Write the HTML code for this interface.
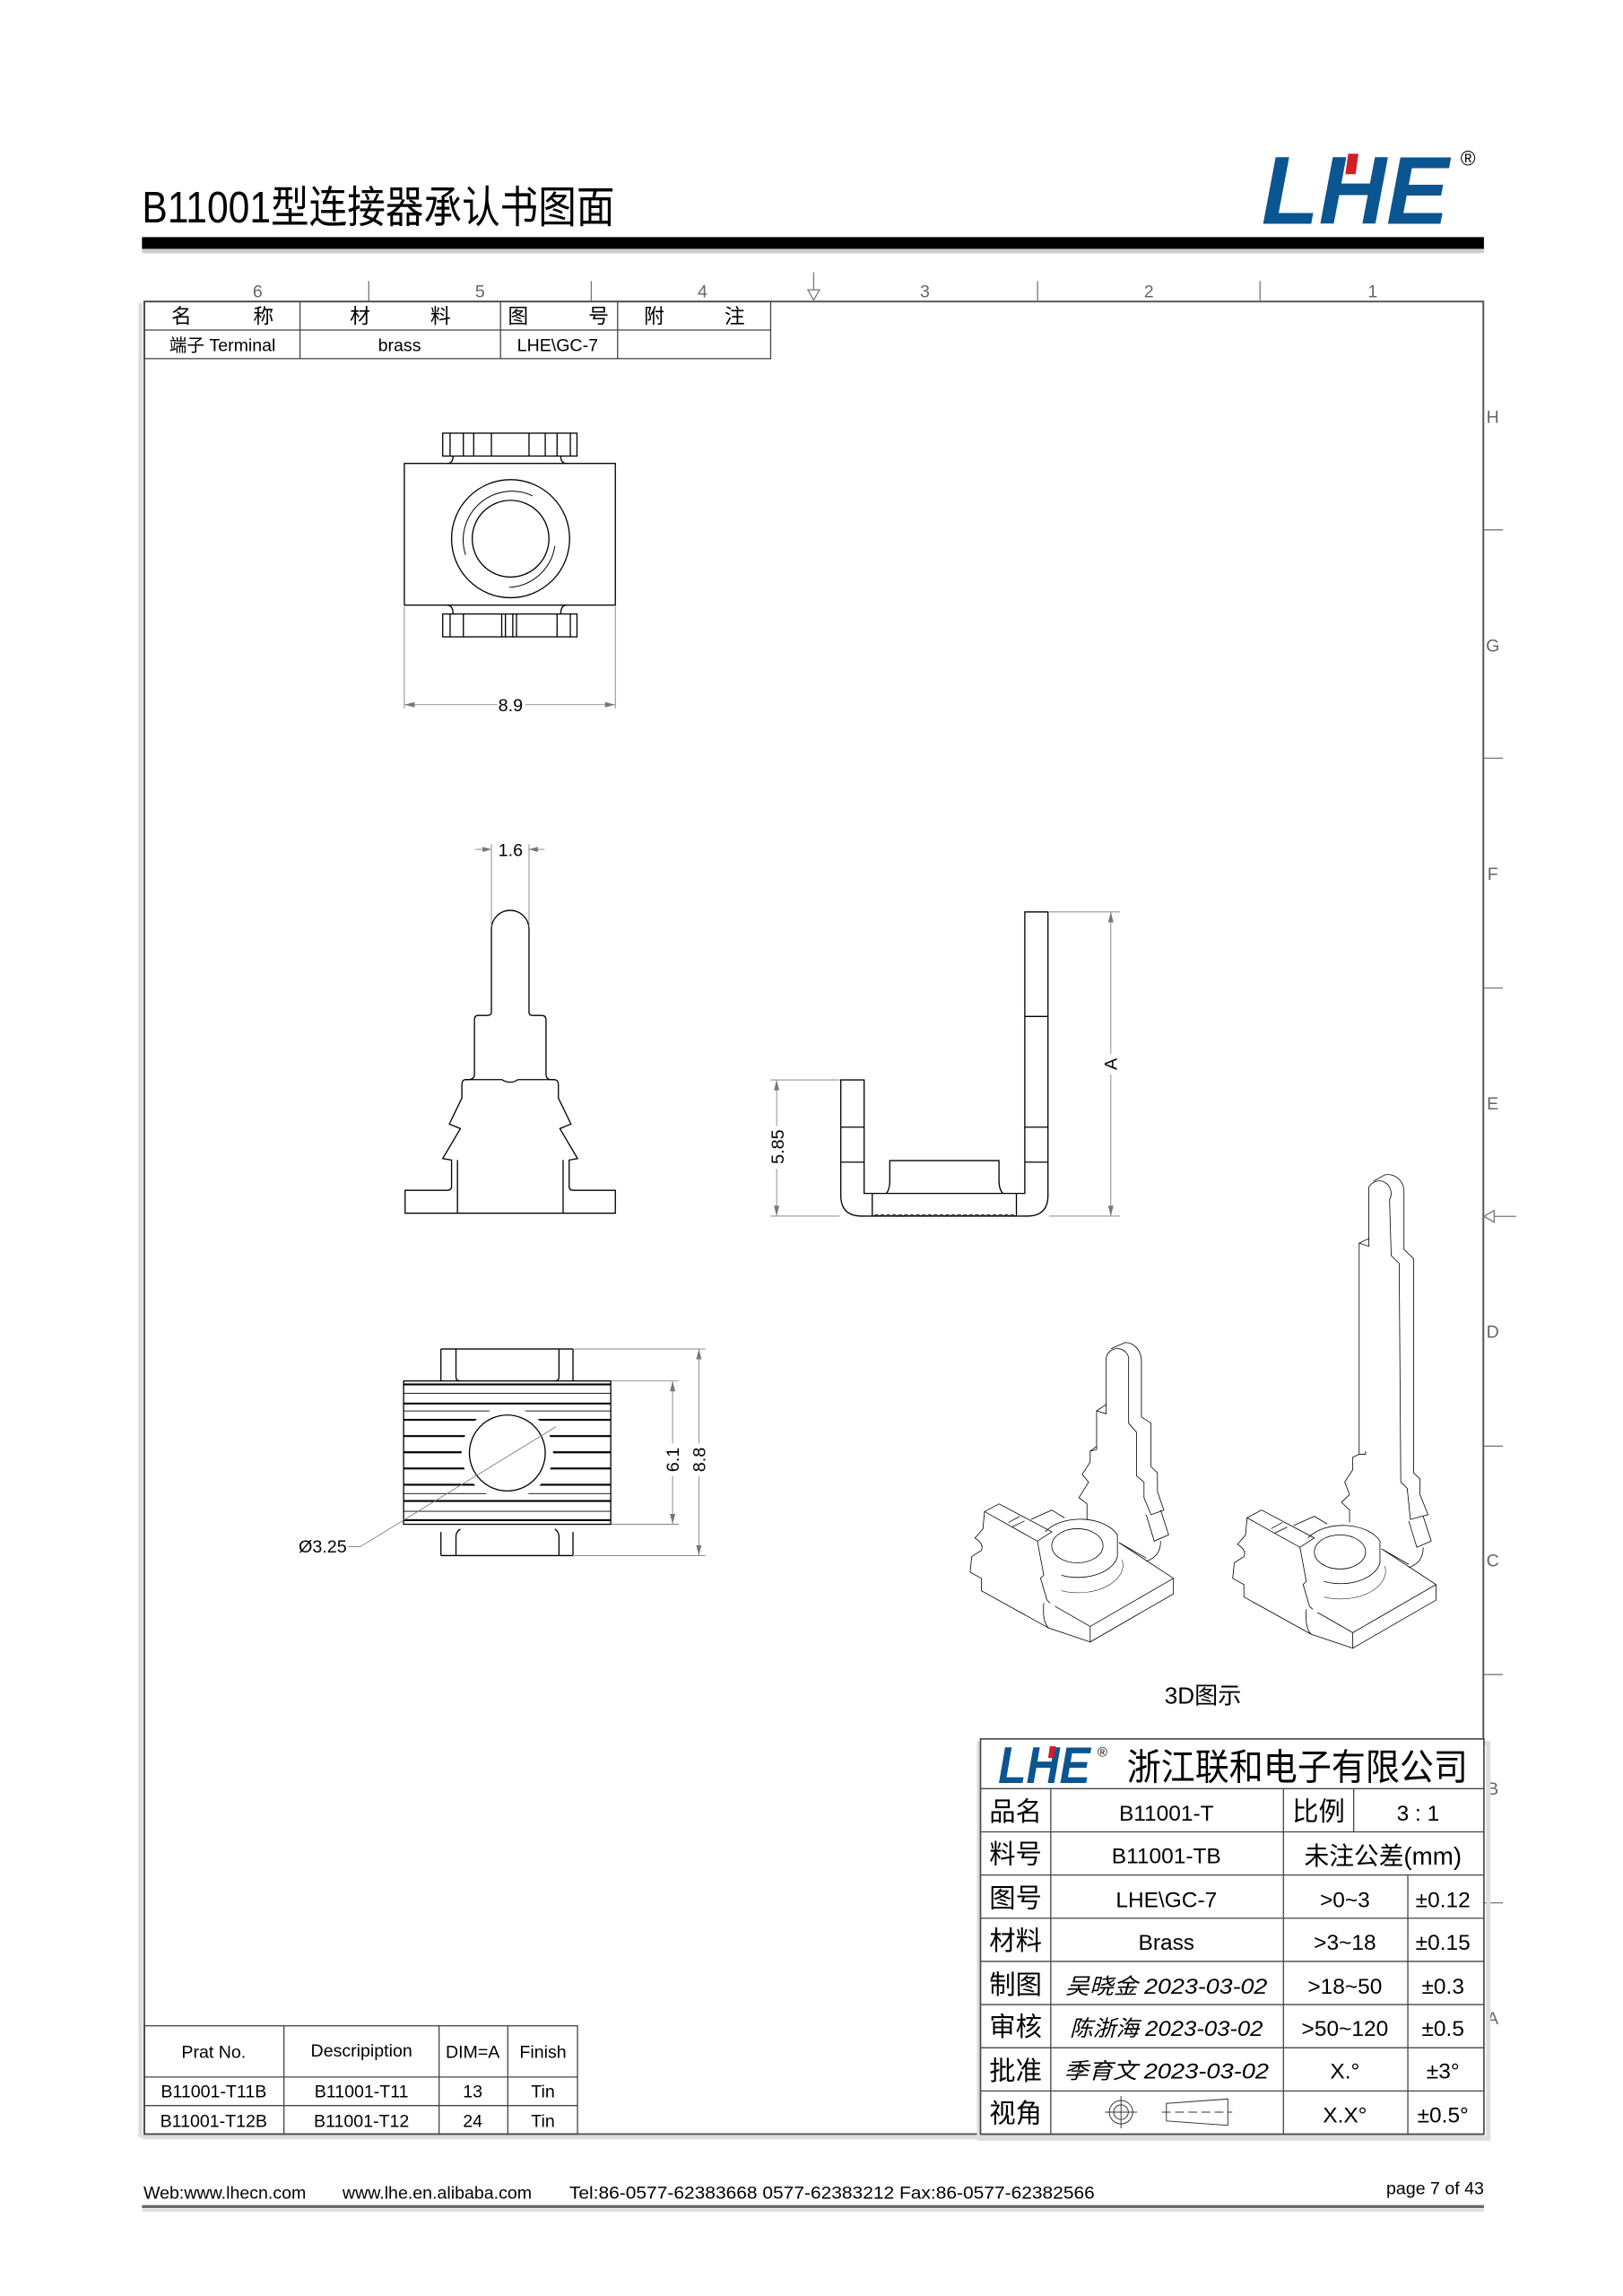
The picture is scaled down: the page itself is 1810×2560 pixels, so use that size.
<!DOCTYPE html>
<html><head><meta charset="utf-8"><style>
html,body{margin:0;padding:0;background:#fff;}
svg{display:block;}
text{font-family:"Liberation Sans","Noto Sans CJK SC",sans-serif;}
.cj{font-family:"Liberation Sans","Noto Sans CJK SC",sans-serif;}
.sig{font-family:"Liberation Serif","Noto Serif CJK SC",serif;font-style:italic;}
</style></head><body>
<svg width="1810" height="2560" viewBox="0 0 1109 1568.6" xmlns="http://www.w3.org/2000/svg">
<!-- header -->
<text x="97" y="152" font-size="30" textLength="323" lengthAdjust="spacingAndGlyphs">B11001型连接器承认书图面</text>
<text x="862" y="153" font-size="66" font-weight="bold" font-style="italic" fill="#0b5591" textLength="128" lengthAdjust="spacingAndGlyphs">LHE</text>
<rect x="936" y="105" width="7" height="14" fill="#d0202a" transform="skewX(-8)" />
<text x="998" y="113" font-size="14">®</text>
<rect x="97" y="170" width="917" height="3" fill="#ccc"/>
<rect x="97" y="162" width="917" height="8" fill="#000"/>

<!-- frame -->
<rect x="98.6" y="206" width="915" height="1252" fill="none" stroke="#555" stroke-width="1.2"/>
<line x1="96" y1="207" x2="96" y2="1460" stroke="#ddd" stroke-width="3"/>
<line x1="97" y1="1460" x2="1014" y2="1460" stroke="#ddd" stroke-width="3"/>
<!-- column markers -->
<g fill="#666" font-size="12" text-anchor="middle">
<text x="176" y="203">6</text><text x="328" y="203">5</text><text x="480" y="203">4</text>
<text x="632" y="203">3</text><text x="785" y="203">2</text><text x="938" y="203">1</text>
</g>
<g stroke="#777" stroke-width="0.8">
<line x1="252" y1="192" x2="252" y2="206"/><line x1="404" y1="192" x2="404" y2="206"/>
<line x1="556" y1="186" x2="556" y2="204"/><line x1="709" y1="192" x2="709" y2="206"/>
<line x1="861" y1="192" x2="861" y2="206"/>
<polygon points="552,198 560,198 556,205" fill="#fff"/>
<line x1="1014" y1="362" x2="1027" y2="362"/><line x1="1014" y1="518" x2="1027" y2="518"/>
<line x1="1014" y1="675" x2="1027" y2="675"/><line x1="1014" y1="831" x2="1036" y2="831"/>
<line x1="1014" y1="988" x2="1027" y2="988"/><line x1="1014" y1="1144" x2="1027" y2="1144"/>
<line x1="1014" y1="1300" x2="1027" y2="1300"/>
<polygon points="1014,831 1021,827 1021,835" fill="#fff"/>
</g>
<g fill="#666" font-size="12" text-anchor="middle">
<text x="1020" y="289">H</text><text x="1020" y="445">G</text><text x="1020" y="601">F</text>
<text x="1020" y="758">E</text><text x="1020" y="914">D</text><text x="1020" y="1070">C</text>
<text x="1020" y="1226">B</text><text x="1020" y="1383">A</text>
</g>

<!-- top-left table -->
<g stroke="#444" stroke-width="0.8" fill="none">
<rect x="98.6" y="206" width="428" height="39"/>
<line x1="98.6" y1="225.5" x2="526.6" y2="225.5"/>
<line x1="205" y1="206" x2="205" y2="245"/><line x1="342" y1="206" x2="342" y2="245"/>
<line x1="422" y1="206" x2="422" y2="245"/>
</g>
<g font-size="14" text-anchor="middle">
<text x="124" y="221">名</text><text x="180" y="221">称</text>
<text x="246" y="221">材</text><text x="301" y="221">料</text>
<text x="354" y="221">图</text><text x="409" y="221">号</text>
<text x="447" y="221">附</text><text x="502" y="221">注</text>
</g>
<g font-size="12" text-anchor="middle">
<text x="152" y="240">端子 Terminal</text><text x="273" y="240">brass</text><text x="381" y="240">LHE\GC-7</text>
</g>

<!-- drawings -->
<g transform="scale(1.0083)" stroke="#000" stroke-width="0.8" fill="none">
<!-- top view -->
<rect x="274" y="314" width="143" height="96"/>
<rect x="300" y="293.5" width="91" height="15.5"/>
<rect x="300" y="416" width="91" height="15.5"/>
<path d="M307 309 Q307 314 303 314 M380 309 Q380 314 384 314 M307 416 Q307 410 303 410 M380 416 Q380 410 384 410"/>
<path d="M305 293.5V309M314 293.5V309M321 293.5V309M333 293.5V309M358.5 293.5V309M369.5 293.5V309M377.5 293.5V309M386.5 293.5V309"/>
<path d="M305 416V431.5M314 416V431.5M340 416V431.5M342.5 416V431.5M347.5 416V431.5M350 416V431.5M377.5 416V431.5M386.5 416V431.5"/>
<circle cx="346" cy="365" r="40"/>
<circle cx="346" cy="365" r="26"/>
<path d="M315.5 376 A33 33 0 0 1 361 336 M376 370 A33 33 0 0 1 345 398" stroke-width="0.6"/>
<g stroke="#777" stroke-width="0.5">
<line x1="274" y1="411" x2="274" y2="480"/><line x1="417" y1="411" x2="417" y2="480"/>
<line x1="274" y1="477.5" x2="337" y2="477.5"/><line x1="356" y1="477.5" x2="417" y2="477.5"/>
</g>
<path d="M274 477.5l7 -1.8v3.6z M417 477.5l-7 -1.8v3.6z" fill="#777" stroke="none"/>
<text x="346" y="482" font-size="12" text-anchor="middle" fill="#000" stroke="none">8.9</text>

<!-- side view -->
<path d="M333 629.6 L333 686 Q333 688 330 688 L324 688 Q321.5 688 321.5 691 L321.5 728 Q321.5 731 318 731.5 L315 731.5 Q313 732 313 735 L313 744 L304.5 761.6 L312 764.7 L300 785 L306 786 L306 804 Q306 806.5 303 806.5 L274.5 806.5 L274.5 822 L417 822 L417 806.5 L388.4 806.5 Q385.7 806.5 385.7 804 L385.7 786 L391.4 785 L379.4 764.7 L386.9 761.6 L378.4 744 L378.4 735 Q378.4 732 376 731.5 L373 731.5 Q370 731 370 728 L370 691 Q370 688 367 688 L361 688 Q358.5 688 358.5 686 L358.5 629.6 A12.75 12.75 0 0 0 333 629.6 Z"/>
<path d="M315 731.5 L340 731.5 Q345.7 735 351 731.5 L376 731.5"/>
<path d="M310 786 V822 M381.6 786 V822"/>
<g stroke="#777" stroke-width="0.5">
<line x1="333" y1="572" x2="333" y2="628"/><line x1="358.5" y1="572" x2="358.5" y2="628"/>
<line x1="322" y1="575.5" x2="333" y2="575.5"/><line x1="358.5" y1="575.5" x2="369" y2="575.5"/>
</g>
<path d="M333 575.5l-6 -1.8v3.6z M358.5 575.5l6 -1.8v3.6z" fill="#777" stroke="none"/>
<text x="346" y="580" font-size="12" text-anchor="middle" fill="#000" stroke="none">1.6</text>

<!-- front view -->
<path d="M569.8 731.7 L569.8 810 Q569.8 824 584 824 L696 824 Q710.2 824 710.2 810 L710.2 617.9 L694.5 617.9 L694.5 808.6 L585.6 808.6 L585.6 731.7 Z"/>
<path d="M569.8 763.7H585.6M569.8 787.4H585.6M694.5 688.7H710.2M694.5 763.7H710.2M694.5 787.4H710.2"/>
<path d="M591.1 808.6V824M688.8 808.6V824"/>
<path d="M600.6 808.6 Q603 806 603 800 L603 786.4 L677 786.4 L677 800 Q677 806 679.7 808.6"/>
<path d="M592 824 q2 -2 4 0 q2 -2 4 0 q2 -2 4 0 q2 -2 4 0 q2 -2 4 0 q2 -2 4 0 q2 -2 4 0 q2 -2 4 0 q2 -2 4 0 q2 -2 4 0 q2 -2 4 0 q2 -2 4 0 q2 -2 4 0 q2 -2 4 0 q2 -2 4 0 q2 -2 4 0 q2 -2 4 0 q2 -2 4 0 q2 -2 4 0 q2 -2 4 0 q2 -2 4 0 q2 -2 4 0 q2 -2 4 0 q2 -2 4 0" stroke-width="0.5"/>
<g stroke="#777" stroke-width="0.5">
<line x1="522" y1="731.7" x2="569" y2="731.7"/><line x1="522" y1="824" x2="569" y2="824"/>
<line x1="526.3" y1="731.7" x2="526.3" y2="763"/><line x1="526.3" y1="792" x2="526.3" y2="824"/>
<line x1="711" y1="617.9" x2="759" y2="617.9"/><line x1="711" y1="824" x2="759" y2="824"/>
<line x1="752.8" y1="617.9" x2="752.8" y2="714"/><line x1="752.8" y1="728" x2="752.8" y2="824"/>
</g>
<path d="M526.3 731.7l-1.8 7h3.6z M526.3 824l-1.8 -7h3.6z M752.8 617.9l-1.8 7h3.6z M752.8 824l-1.8 -7h3.6z" fill="#777" stroke="none"/>
<text transform="translate(531,777) rotate(-90)" font-size="12" text-anchor="middle" fill="#000" stroke="none">5.85</text>
<text transform="translate(757,721) rotate(-90)" font-size="12" text-anchor="middle" fill="#000" stroke="none">A</text>

<!-- bottom view -->
<g stroke-width="1.3">
<path d="M273.5 938H413.9M273.5 951H413.9M273.5 962H413.9M273.5 973H413.9M273.5 984H413.9M273.5 995H413.9M273.5 1006H413.9M273.5 1017H413.9M273.5 1030H413.9"/>
</g>
<g stroke-width="0.5">
<path d="M273.5 944H413.9M273.5 1024H413.9M273.5 956H413.9M273.5 1012H413.9"/>
</g>
<circle cx="343.8" cy="984.5" r="31" fill="#fff" stroke="none"/>
<rect x="273.5" y="935.7" width="140.4" height="97.1"/>
<circle cx="343.8" cy="984.5" r="25.7"/>
<path d="M298.8 914H388.3M298.8 914V935.7M309 914V933 Q309 935.7 312 935.7M388.3 914V935.7M378.8 914V933 Q378.8 935.7 376 935.7"/>
<path d="M298.8 1054H388.3M298.8 1054V1038M309 1054V1041 Q309 1038 312 1036M388.3 1054V1038M378.8 1054V1041 Q378.8 1038 376 1036"/>
<g stroke="#777" stroke-width="0.5">
<line x1="414" y1="935.7" x2="460" y2="935.7"/><line x1="414" y1="1032.8" x2="460" y2="1032.8"/>
<line x1="455.8" y1="935.7" x2="455.8" y2="978"/><line x1="455.8" y1="1000" x2="455.8" y2="1032.8"/>
<line x1="389" y1="914" x2="478" y2="914"/><line x1="389" y1="1054" x2="478" y2="1054"/>
<line x1="473.6" y1="914" x2="473.6" y2="978"/><line x1="473.6" y1="1000" x2="473.6" y2="1054"/>
<polyline points="376.8,966.7 244.1,1048 236,1048"/>
</g>
<path d="M455.8 935.7l-1.8 7h3.6z M455.8 1032.8l-1.8 -7h3.6z M473.6 914l-1.8 7h3.6z M473.6 1054l-1.8 -7h3.6z" fill="#777" stroke="none"/>
<text transform="translate(460,989) rotate(-90)" font-size="12" text-anchor="middle" fill="#000" stroke="none">6.1</text>
<text transform="translate(478,989) rotate(-90)" font-size="12" text-anchor="middle" fill="#000" stroke="none">8.8</text>
<text x="235" y="1052" font-size="12" text-anchor="end" fill="#000" stroke="none">Ø3.25</text>
</g>

<!-- 3D views -->
<g transform="translate(661.8,802.7) scale(0.2188,0.212)" fill="none" stroke="#000" stroke-width="0.8">
<g id="base" vector-effect="non-scaling-stroke">
<path vector-effect="non-scaling-stroke" d="M470 1185 L640 1300 L640 1350 L380 1505 L380 1455 L640 1300 M380 1455 L270 1390 M380 1505 L250 1460 Q230 1440 235 1380"/>
<path vector-effect="non-scaling-stroke" d="M50 1085 L95 1060 L260 1150 L215 1180 Z M50 1085 L45 1140 Q30 1160 20 1170 Q50 1190 40 1210 L10 1230 L5 1280 L40 1300 L40 1340 L250 1460 M215 1180 L235 1290 L225 1300 L245 1370 L255 1380"/>
<path vector-effect="non-scaling-stroke" d="M195 1110 L260 1080 L300 1105 M125 1120 L160 1100 M135 1135 L175 1115"/>
<path vector-effect="non-scaling-stroke" d="M240 1150 A125 80 0 0 1 465 1160 L465 1230 A125 80 0 0 1 290 1290"/>
<ellipse vector-effect="non-scaling-stroke" cx="340" cy="1195" rx="80" ry="55"/>
<path vector-effect="non-scaling-stroke" d="M290 1340 A140 90 0 0 0 480 1240" stroke-width="0.5"/>
<path vector-effect="non-scaling-stroke" d="M470 1185 L555 1235"/>
</g>
<path vector-effect="non-scaling-stroke" d="M370 1110 L370 1060 L345 1040 L375 990 L355 965 L380 925 L380 890 L400 875 L400 760 L430 740 L430 590 A35 35 0 0 1 500 600 L500 800 L525 830 L525 970 L548 990 L548 1040 L570 1095 L610 1080 L590 1020 L590 960 L570 940 L570 800 L540 780 L540 600 A50 60 0 0 0 490 540 L445 560"/>
<path vector-effect="non-scaling-stroke" d="M555 1095 L580 1180 L625 1160 L600 1080 M555 1245 Q600 1230 600 1180"/>
<path vector-effect="non-scaling-stroke" d="M400 760 L430 770 L430 740 M380 890 L400 885 L400 875"/>
<g transform="translate(820,20)">
<path vector-effect="non-scaling-stroke" d="M470 1185 L640 1300 L640 1350 L380 1505 L380 1455 L640 1300 M380 1455 L270 1390 M380 1505 L250 1460 Q230 1440 235 1380"/>
<path vector-effect="non-scaling-stroke" d="M50 1085 L95 1060 L260 1150 L215 1180 Z M50 1085 L45 1140 Q30 1160 20 1170 Q50 1190 40 1210 L10 1230 L5 1280 L40 1300 L40 1340 L250 1460 M215 1180 L235 1290 L225 1300 L245 1370 L255 1380"/>
<path vector-effect="non-scaling-stroke" d="M195 1110 L260 1080 L300 1105 M125 1120 L160 1100 M135 1135 L175 1115"/>
<path vector-effect="non-scaling-stroke" d="M240 1150 A125 80 0 0 1 465 1160 L465 1230 A125 80 0 0 1 290 1290"/>
<ellipse vector-effect="non-scaling-stroke" cx="340" cy="1195" rx="80" ry="55"/>
<path vector-effect="non-scaling-stroke" d="M290 1340 A140 90 0 0 0 480 1240" stroke-width="0.5"/>
<path vector-effect="non-scaling-stroke" d="M470 1185 L555 1235"/>
<path vector-effect="non-scaling-stroke" d="M555 1095 L580 1180 L625 1160 L600 1080 M555 1245 Q600 1230 600 1180"/>
</g>
<path vector-effect="non-scaling-stroke" d="M1190 1120 L1190 1080 L1165 1055 L1190 1030 L1175 990 L1200 950 L1200 910 L1220 900 L1220 220 L1250 205 L1250 40 A32 35 0 0 1 1315 80 L1320 260 L1345 285 L1350 990 L1370 1010 L1380 1110 L1435 1095 L1410 1030 L1410 980 L1390 960 L1390 270 L1360 240 L1360 50 A50 55 0 0 0 1300 0 L1265 20"/>
<path vector-effect="non-scaling-stroke" d="M1220 900 L1240 900 L1240 890 M1220 220 L1250 230 L1250 205"/>
</g>
<text x="822" y="1164" font-size="16" text-anchor="middle">3D图示</text>

<!-- bottom-left table -->
<g stroke="#444" stroke-width="0.8" fill="none">
<rect x="98.6" y="1384" width="296" height="74"/>
<line x1="98.6" y1="1419" x2="394.6" y2="1419"/><line x1="98.6" y1="1438.5" x2="394.6" y2="1438.5"/>
<line x1="194" y1="1384" x2="194" y2="1458"/><line x1="300" y1="1384" x2="300" y2="1458"/>
<line x1="347" y1="1384" x2="347" y2="1458"/>
</g>
<g font-size="12" text-anchor="middle">
<text x="146" y="1406">Prat No.</text><text x="247" y="1405">Descripiption</text>
<text x="323" y="1406">DIM=A</text><text x="371" y="1406">Finish</text>
<text x="146" y="1433">B11001-T11B</text><text x="247" y="1433">B11001-T11</text><text x="323" y="1433">13</text><text x="371" y="1433">Tin</text>
<text x="146" y="1453">B11001-T12B</text><text x="247" y="1453">B11001-T12</text><text x="323" y="1453">24</text><text x="371" y="1453">Tin</text>
</g>

<!-- title block -->
<rect x="668" y="1190" width="348" height="270" fill="none" stroke="#ddd" stroke-width="3" transform="translate(1,1)"/>
<rect x="670" y="1188" width="344" height="270" fill="#fff" stroke="#444" stroke-width="1"/>
<g stroke="#444" stroke-width="0.8">
<line x1="670" y1="1222" x2="1014" y2="1222"/>
<line x1="670" y1="1251.5" x2="1014" y2="1251.5"/>
<line x1="670" y1="1281" x2="1014" y2="1281"/>
<line x1="670" y1="1310.5" x2="1014" y2="1310.5"/>
<line x1="670" y1="1340" x2="1014" y2="1340"/>
<line x1="670" y1="1369.5" x2="1014" y2="1369.5"/>
<line x1="670" y1="1399" x2="1014" y2="1399"/>
<line x1="670" y1="1428.5" x2="1014" y2="1428.5"/>
<line x1="718" y1="1222" x2="718" y2="1458"/>
<line x1="877" y1="1222" x2="877" y2="1458"/>
<line x1="925" y1="1222" x2="925" y2="1251.5"/>
<line x1="962" y1="1281" x2="962" y2="1458"/>
</g>
<text x="682" y="1218" font-size="35" font-weight="bold" font-style="italic" fill="#0b5591" textLength="63" lengthAdjust="spacingAndGlyphs">LHE</text>
<rect x="717" y="1193" width="4" height="8" fill="#d0202a" transform="skewX(-8) translate(168,0)"/>
<text x="750" y="1200" font-size="9">®</text>
<text x="770" y="1216" font-size="25" textLength="233" lengthAdjust="spacingAndGlyphs">浙江联和电子有限公司</text>
<g font-size="18" text-anchor="middle">
<text x="694" y="1244">品名</text><text x="694" y="1273">料号</text><text x="694" y="1303">图号</text>
<text x="694" y="1332">材料</text><text x="694" y="1362">制图</text><text x="694" y="1391">审核</text>
<text x="694" y="1421">批准</text><text x="694" y="1450">视角</text>
<text x="901" y="1244">比例</text>
</g>
<g font-size="15" text-anchor="middle">
<text x="797" y="1244">B11001-T</text><text x="797" y="1273">B11001-TB</text>
<text x="797" y="1303">LHE\GC-7</text><text x="797" y="1332">Brass</text>
<text x="969" y="1244">3 : 1</text>
<text x="945" y="1274" font-size="17">未注公差(mm)</text>
<text x="919" y="1303">&gt;0~3</text><text x="986" y="1303">±0.12</text>
<text x="919" y="1332">&gt;3~18</text><text x="986" y="1332">±0.15</text>
<text x="919" y="1362">&gt;18~50</text><text x="986" y="1362">±0.3</text>
<text x="919" y="1391">&gt;50~120</text><text x="986" y="1391">±0.5</text>
<text x="919" y="1420">X.°</text><text x="986" y="1420">±3°</text>
<text x="919" y="1450">X.X°</text><text x="986" y="1450">±0.5°</text>
</g>
<g class="sig" font-size="15" text-anchor="middle">
<text x="797" y="1362" textLength="138" lengthAdjust="spacingAndGlyphs">吴晓金 2023-03-02</text>
<text x="797" y="1391" textLength="132" lengthAdjust="spacingAndGlyphs">陈浙海 2023-03-02</text>
<text x="797" y="1420" textLength="140" lengthAdjust="spacingAndGlyphs">季育文 2023-03-02</text>
</g>
<g stroke="#333" stroke-width="0.6" fill="none">
<circle cx="766" cy="1443" r="8"/><circle cx="766" cy="1443" r="5"/>
<line x1="755" y1="1443" x2="777" y2="1443"/><line x1="766" y1="1432" x2="766" y2="1454"/>
<path d="M797 1437 L839 1434 L839 1452 L797 1449 Z"/>
<line x1="794" y1="1443" x2="842" y2="1443" stroke-dasharray="6 3"/>
</g>

<!-- footer -->
<g font-size="12">
<text x="98" y="1502">Web:www.lhecn.com</text>
<text x="234" y="1502">www.lhe.en.alibaba.com</text>
<text x="389" y="1502" textLength="359" lengthAdjust="spacingAndGlyphs">Tel:86-0577-62383668  0577-62383212  Fax:86-0577-62382566</text>
<text x="1014" y="1499" text-anchor="end">page 7 of 43</text>
</g>
<rect x="97" y="1509" width="917" height="2" fill="#ddd"/>
<rect x="97" y="1506.5" width="917" height="2" fill="#666"/>
</svg>
</body></html>
